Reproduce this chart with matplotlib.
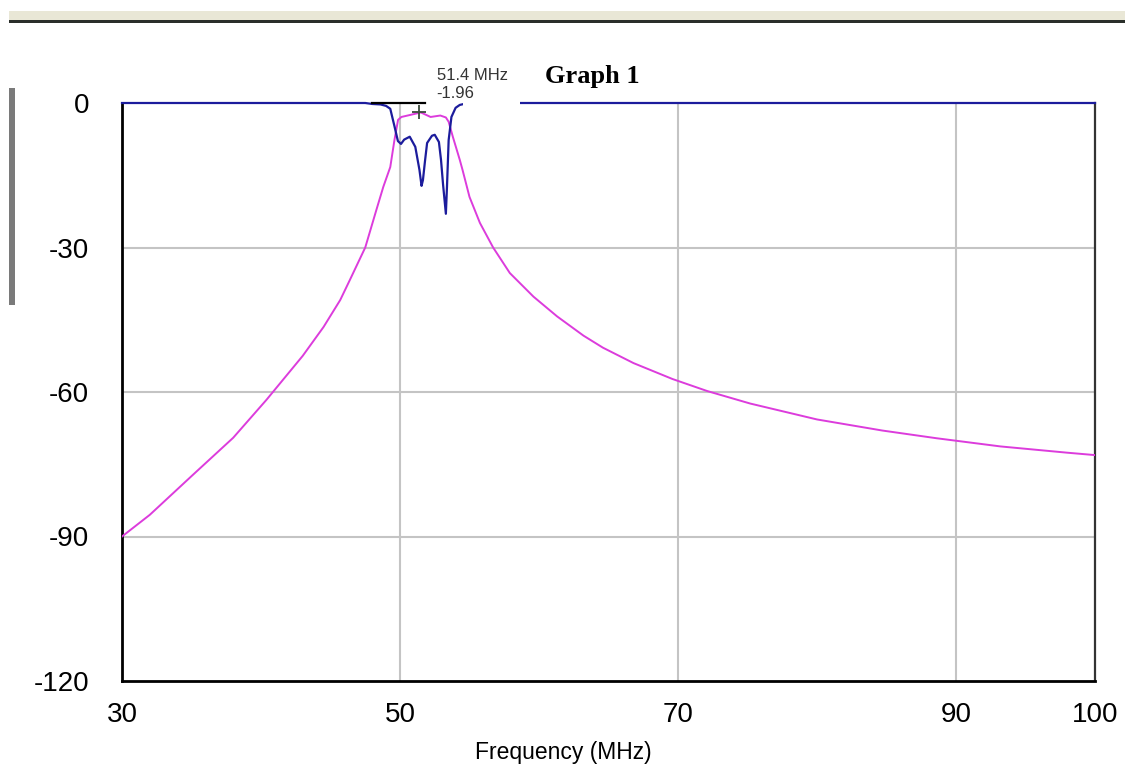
import matplotlib
matplotlib.use("Agg")
import matplotlib.pyplot as plt
from matplotlib.patches import Rectangle

# ---------------- data ----------------
x_ticks = [30, 50, 70, 90, 100]
y_ticks = [0, -30, -60, -90, -120]

pink_freq = [30, 32.0, 35.1, 38.0, 40.4, 43.0, 44.5, 45.7, 46.4, 47.5, 48.3, 48.8, 49.3,
             49.6, 49.86, 50.1, 50.7, 51.5, 52.2, 52.9, 53.3, 53.5, 53.8, 54.3,
             54.5, 55.0, 55.75, 56.7, 57.9, 59.6, 61.3, 63.2, 64.6, 66.8, 69.6,
             72.1, 75.2, 80.0, 84.7, 88.6, 93.2, 98.0, 100]
pink_db = [-90, -85.5, -77.2, -69.5, -61.6, -52.5, -46.5, -40.9, -36.7, -30.0, -22.2, -17.4, -13.3,
           -7.7, -3.5, -2.9, -2.5, -1.96, -2.9, -2.6, -3.0, -3.9, -7.0, -11.8,
           -13.9, -19.5, -24.9, -30.0, -35.3, -40.2, -44.3, -48.3, -50.8, -54.0, -57.3,
           -59.8, -62.4, -65.7, -68.0, -69.6, -71.3, -72.6, -73.1]

blue_freq = [30, 47.5, 48.0, 48.6, 49.0, 49.3, 49.6, 49.85, 50.07, 50.3, 50.7, 51.1,
             51.4, 51.55, 51.65, 51.8, 51.95, 52.3, 52.5, 52.8, 52.95, 53.1, 53.3,
             53.38, 53.5, 53.7, 54.0, 54.3, 54.6, 55.0, 56.0, 100]
blue_db = [0, 0, -0.2, -0.3, -0.6, -1.2, -4.8, -7.9, -8.5, -7.6, -7.0, -9.1,
           -13.9, -17.2, -16.0, -12.0, -8.3, -6.8, -6.6, -8.1, -11.8, -17.0, -23.0,
           -17.4, -7.7, -2.9, -1.0, -0.4, -0.2, -0.1, 0, 0]

marker_freq = 51.4
marker_db = -1.96
marker_line_freq = [48.0, 51.8]
marker_line_db = [0, 0]

W, H = 1125, 782
fig = plt.figure(figsize=(W / 100, H / 100), dpi=100)
fig.patch.set_facecolor("white")


def fx(px):
    return px / W


def fy(py):
    return 1 - py / H


ax = fig.add_axes([fx(122), fy(681), fx(1095) - fx(122), fy(103) - fy(681)])
ax.set_xlim(30, 100)
ax.set_ylim(-120, 0)

# grid (interior only)
for gx in x_ticks[1:-1]:
    ax.axvline(gx, color="#c4c4c4", lw=1.5, zorder=1)
for gy in y_ticks[1:-1]:
    ax.axhline(gy, color="#c4c4c4", lw=1.5, zorder=1)

ax.plot(pink_freq, pink_db, color="#dc3cdc", lw=1.4, zorder=3)
ax.plot(blue_freq, blue_db, color="#1c1c9c", lw=1.6, zorder=4, clip_on=False)
ax.plot(marker_line_freq, marker_line_db, color="black", lw=1.6, zorder=5, clip_on=False)
ax.plot([marker_freq], [marker_db], marker="+", color="#3a4a3a", ms=10, mew=1.3, zorder=6)

ax.set_xticks(x_ticks)
ax.set_yticks(y_ticks)
ax.set_xticklabels([str(v) for v in x_ticks], family="Liberation Sans", fontsize=20)
ax.set_yticklabels([str(v) for v in y_ticks], family="Liberation Sans", fontsize=20)
ax.tick_params(axis="both", length=0, colors="black")
ax.tick_params(axis="x", pad=15)
ax.tick_params(axis="y", pad=23.5)

for s in ["left", "bottom"]:
    ax.spines[s].set_linewidth(2.0)
    ax.spines[s].set_color("black")
ax.spines["right"].set_linewidth(1.6)
ax.spines["right"].set_color("#333333")
ax.spines["top"].set_visible(False)

fig.text(fx(563), fy(753), "Frequency (MHz)", family="Liberation Sans", fontsize=16.5,
         color="black", ha="center", va="center")

# white label box hiding the trace behind the marker readout
fig.patches.append(Rectangle((fx(463), fy(107)), fx(520) - fx(463), fy(60) - fy(107),
                             transform=fig.transFigure, facecolor="white",
                             edgecolor="none", zorder=10))

fig.text(fx(437), fy(75), "51.4 MHz", family="Liberation Sans", fontsize=12,
         color="#333333", ha="left", va="center", zorder=11)
fig.text(fx(436), fy(93), "-1.96", family="Liberation Sans", fontsize=12,
         color="#333333", ha="left", va="center", zorder=11)
fig.text(fx(545), fy(77), "Graph 1", family="Liberation Serif", fontweight="bold",
         fontsize=19, color="black", ha="left", va="center", zorder=11)

# window chrome: top band and left scrollbar
fig.patches.append(Rectangle((fx(9), fy(20)), 1 - fx(9), fy(11) - fy(20),
                             transform=fig.transFigure, facecolor="#e9e7d6",
                             edgecolor="none", zorder=10))
fig.patches.append(Rectangle((fx(9), fy(22.5)), 1 - fx(9), fy(20) - fy(22.5),
                             transform=fig.transFigure, facecolor="#2a2e2a",
                             edgecolor="none", zorder=10))
fig.patches.append(Rectangle((fx(9), fy(305)), fx(15) - fx(9), fy(88) - fy(305),
                             transform=fig.transFigure, facecolor="#7a7a7a",
                             edgecolor="none", zorder=10))

fig.savefig("out.png", dpi=100, facecolor="white")
